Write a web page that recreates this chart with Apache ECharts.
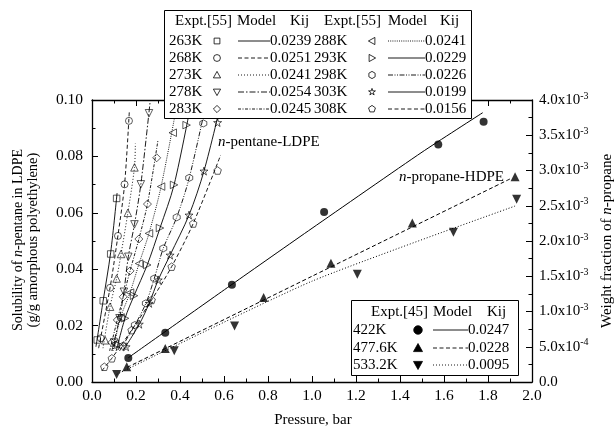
<!DOCTYPE html>
<html><head><meta charset="utf-8">
<script src="https://cdn.jsdelivr.net/npm/echarts@6/dist/echarts.min.js"></script>
<style>html,body{margin:0;padding:0;background:#fff}#c{width:615px;height:427px}</style>
</head><body><div id="c"></div>
<script>
const FONT = 'Liberation Serif';

// ---------- n-pentane / LDPE  (Expt.[55]) : [pressure bar, g/g] ----------
const pentTemps = ['263K','268K','273K','278K','283K','288K','293K','298K','303K','308K'];
const pentKij   = ['0.0239','0.0251','0.0241','0.0254','0.0245','0.0241','0.0229','0.0226','0.0199','0.0156'];

const pent263 = [[0.024,0.0149],[0.051,0.0288],[0.085,0.0454],[0.112,0.0651]];
const pent268 = [[0.040,0.0155],[0.082,0.0334],[0.118,0.0518],[0.148,0.0701],[0.168,0.0926]];
const pent273 = [[0.060,0.0148],[0.082,0.0267],[0.112,0.0367],[0.132,0.0454],[0.163,0.0600],[0.193,0.0761]];
const pent278 = [[0.100,0.0140],[0.125,0.0226],[0.145,0.0320],[0.165,0.0444],[0.193,0.0559],[0.222,0.0701],[0.259,0.0953]];
const pent283 = [[0.090,0.0140],[0.115,0.0220],[0.142,0.0302],[0.173,0.0394],[0.213,0.0507],[0.252,0.0631],[0.294,0.0795]];
const pent288 = [[0.105,0.0135],[0.130,0.0229],[0.173,0.0317],[0.214,0.0420],[0.259,0.0527],[0.314,0.0693],[0.367,0.0884]];
const pent293 = [[0.120,0.0132],[0.150,0.0226],[0.191,0.0306],[0.251,0.0415],[0.309,0.0546],[0.373,0.0699],[0.430,0.0911]];
const pent298 = [[0.140,0.0128],[0.195,0.0202],[0.245,0.0279],[0.283,0.0367],[0.324,0.0474],[0.385,0.0584],[0.442,0.0724],[0.506,0.0917]];
const pent303 = [[0.155,0.0125],[0.215,0.0205],[0.260,0.0279],[0.301,0.0362],[0.355,0.0450],[0.441,0.0592],[0.509,0.0748],[0.571,0.0920]];
const pent308 = [[0.056,0.0054],[0.090,0.0084],[0.180,0.0184],[0.271,0.0291],[0.362,0.0409],[0.460,0.0562],[0.571,0.0750]];

// model curves
const mod263 = [[0.018,0.0125],[0.050,0.0285],[0.085,0.0460],[0.114,0.0670]];
const mod268 = [[0.030,0.0120],[0.082,0.0334],[0.118,0.0520],[0.148,0.0700],[0.170,0.0965]];
const mod273 = [[0.050,0.0120],[0.082,0.0267],[0.112,0.0367],[0.132,0.0454],[0.163,0.0600],[0.193,0.0761],[0.197,0.0846]];
const mod278 = [[0.090,0.0110],[0.125,0.0226],[0.145,0.0320],[0.165,0.0444],[0.193,0.0559],[0.222,0.0701],[0.265,0.1000]];
const mod283 = [[0.080,0.0110],[0.115,0.0220],[0.142,0.0302],[0.173,0.0394],[0.213,0.0507],[0.252,0.0631],[0.300,0.0858]];
const mod288 = [[0.095,0.0110],[0.130,0.0229],[0.173,0.0317],[0.214,0.0420],[0.259,0.0527],[0.314,0.0693],[0.390,0.1000]];
const mod293 = [[0.110,0.0110],[0.150,0.0226],[0.191,0.0306],[0.251,0.0415],[0.309,0.0546],[0.373,0.0699],[0.453,0.1000]];
const mod298 = [[0.125,0.0110],[0.195,0.0202],[0.245,0.0279],[0.283,0.0367],[0.324,0.0474],[0.385,0.0584],[0.442,0.0724],[0.522,0.1000]];
const mod303 = [[0.140,0.0110],[0.215,0.0205],[0.260,0.0279],[0.301,0.0362],[0.355,0.0450],[0.441,0.0592],[0.509,0.0748],[0.590,0.1000]];
const mod308 = [[0.045,0.0040],[0.090,0.0084],[0.180,0.0184],[0.271,0.0291],[0.362,0.0409],[0.460,0.0562],[0.585,0.0805]];

// ---------- n-propane / HDPE (Expt.[45]) : [pressure bar, weight fraction] ----------
const propTemps = ['422K','477.6K','533.2K'];
const propKij   = ['0.0247','0.0228','0.0095'];
const prop422  = [[0.165,3.4e-4],[0.333,7.0e-4],[0.636,1.38e-3],[1.055,2.41e-3],[1.574,3.37e-3],[1.780,3.69e-3]];
const prop4776 = [[0.158,2.16e-4],[0.333,4.76e-4],[0.780,1.20e-3],[1.086,1.684e-3],[1.456,2.256e-3],[1.923,2.912e-3]];
const prop5332 = [[0.112,1.08e-4],[0.374,4.44e-4],[0.648,7.96e-4],[1.206,1.528e-3],[1.643,2.124e-3],[1.930,2.592e-3]];
const modP422  = [[0.165,3.44e-4],[0.636,1.384e-3],[1.000,2.18e-3],[1.500,3.26e-3],[1.776,3.82e-3]];
const modP4776 = [[0.160,2.08e-4],[1.000,1.50e-3],[1.900,2.88e-3]];
const modP5332 = [[0.112,1.08e-4],[1.000,1.43e-3],[1.923,2.496e-3]];

// right axis tick labels [mantissa, exponent]
const rightTicks = [['0.0',''],['5.0','-4'],['1.0','-3'],['1.5','-3'],['2.0','-3'],['2.5','-3'],['3.0','-3'],['3.5','-3'],['4.0','-3']];

// ---------- symbols ----------
const SYM = {
  square:'rect',
  circle:'circle',
  up:'path://M0,-1 L1,0.8 L-1,0.8 Z',
  down:'path://M-1,-0.8 L1,-0.8 L0,1 Z',
  diamond:'path://M0,-1 L1,0 L0,1 L-1,0 Z',
  left:'path://M0.8,-1 L0.8,1 L-1,0 Z',
  right:'path://M-0.8,-1 L-0.8,1 L1,0 Z',
  hex:'path://M0,-1 L0.866,-0.5 L0.866,0.5 L0,1 L-0.866,0.5 L-0.866,-0.5 Z',
  star:'path://M0,-1 L0.2245,-0.309 L0.951,-0.309 L0.363,0.118 L0.588,0.809 L0,0.382 L-0.588,0.809 L-0.363,0.118 L-0.951,-0.309 L-0.2245,-0.309 Z',
  pent:'path://M0,-1 L0.951,-0.309 L0.588,0.809 L-0.588,0.809 L-0.951,-0.309 Z'
};
const pentSym  = ['square','circle','up','down','diamond','left','right','hex','star','pent'];
const pentSize = [6.5,7,7.5,7.5,8,7.5,7.5,7,8,7.5];
const pentDash = ['solid',[4,2.5],[1,2],[6,2,1.5,2],[3,1.5,1,1.5],[1,1.2],'solid',[5,1.5,1,1.5,1,1.5],'solid',[4,2.5]];
const pentPts  = [pent263,pent268,pent273,pent278,pent283,pent288,pent293,pent298,pent303,pent308];
const pentMod  = [mod263,mod268,mod273,mod278,mod283,mod288,mod293,mod298,mod303,mod308];

const propSym  = ['circle','up','down'];
const propSize = [8,9,9];
const propDash = ['solid',[4,2.5],[1,2]];
const propPts  = [prop422,prop4776,prop5332];
const propMod  = [modP422,modP4776,modP5332];

const series = [];
pentPts.forEach((d,i)=>{
  series.push({type:'line', data:pentMod[i], xAxisIndex:0, yAxisIndex:0, showSymbol:false, smooth:0.3,
    lineStyle:{color:'#000', width:0.9, type:pentDash[i]}, silent:true, z:2});
  series.push({type:'scatter', data:d, xAxisIndex:0, yAxisIndex:0, symbol:SYM[pentSym[i]], symbolSize:pentSize[i],
    itemStyle:{color:'rgba(255,255,255,0)', borderColor:'#000', borderWidth:0.8}, silent:true, z:3});
});
propPts.forEach((d,i)=>{
  series.push({type:'line', data:propMod[i], xAxisIndex:0, yAxisIndex:1, showSymbol:false, smooth:0.2,
    lineStyle:{color:'#000', width:1, type:propDash[i]}, silent:true, z:2});
  series.push({type:'scatter', data:d, xAxisIndex:0, yAxisIndex:1, symbol:SYM[propSym[i]], symbolSize:propSize[i],
    itemStyle:{color:'#000'}, silent:true, z:3});
});

// ---------- legend drawing helpers (graphic) ----------
function shapeEl(kind, cx, cy, r, filled){
  const st = {fill: filled ? '#000' : '#fff', stroke:'#000', lineWidth:0.8};
  if (kind==='circle') return {type:'circle', shape:{cx:cx, cy:cy, r:r*0.95}, style:st, z:101};
  let p;
  switch(kind){
    case 'square': p=[[-0.8,-0.8],[0.8,-0.8],[0.8,0.8],[-0.8,0.8]]; break;
    case 'up': p=[[0,-1],[1,0.8],[-1,0.8]]; break;
    case 'down': p=[[-1,-0.8],[1,-0.8],[0,1]]; break;
    case 'diamond': p=[[0,-1],[1,0],[0,1],[-1,0]]; break;
    case 'left': p=[[0.8,-1],[0.8,1],[-1,0]]; break;
    case 'right': p=[[-0.8,-1],[-0.8,1],[1,0]]; break;
    case 'hex': p=[[0,-1],[0.866,-0.5],[0.866,0.5],[0,1],[-0.866,0.5],[-0.866,-0.5]]; break;
    case 'star': p=[[0,-1],[0.2245,-0.309],[0.951,-0.309],[0.363,0.118],[0.588,0.809],[0,0.382],[-0.588,0.809],[-0.363,0.118],[-0.951,-0.309],[-0.2245,-0.309]]; break;
    case 'pent': p=[[0,-1],[0.951,-0.309],[0.588,0.809],[-0.588,0.809],[-0.951,-0.309]]; break;
  }
  return {type:'polygon', shape:{points:p.map(q=>[cx+q[0]*r, cy+q[1]*r])}, style:st, z:101};
}
function txt(s, x, y, size, align){
  return {type:'text', x:x, y:y, z:102, style:{text:s, fontFamily:FONT, fontSize:size||15, fill:'#000',
    align:align||'left', verticalAlign:'middle', textAlign:align||'left', textVerticalAlign:'middle'}};
}
function seg(x1,x2,y,dash){
  return {type:'line', shape:{x1:x1,y1:y,x2:x2,y2:y}, z:101,
    style:{stroke:'#000', lineWidth:0.9, lineDash: dash==='solid'?null:dash}};
}

const gr = [];
// top legend
gr.push({type:'rect', shape:{x:164.5,y:10.5,width:307,height:108}, style:{fill:'#fff', stroke:'#000', lineWidth:1}, z:100});
gr.push(txt('Expt.[55]',175,21)); gr.push(txt('Model',237,21)); gr.push(txt('Kij',290,21));
gr.push(txt('Expt.[55]',324,21)); gr.push(txt('Model',388,21)); gr.push(txt('Kij',440,21));
const rowY = [41,58,75,92,109];
for (let i=0;i<10;i++){
  const col = i<5?0:1, r = i%5, y = rowY[r];
  const tx = col?314:169, mx = col?372:217, l1 = col?388:238, l2 = col?425:270;
  gr.push(txt(pentTemps[i], tx, y));
  gr.push(shapeEl(pentSym[i], mx, y, 3.6, false));
  gr.push(seg(l1, l2, y, pentDash[i]));
  gr.push(txt(pentKij[i], l2, y));
}
// bottom legend
gr.push({type:'rect', shape:{x:351.5,y:300.5,width:167,height:75}, style:{fill:'#fff', stroke:'#000', lineWidth:1}, z:100});
gr.push(txt('Expt.[45]',371,312)); gr.push(txt('Model',433,312)); gr.push(txt('Kij',487,312));
const rowY2 = [330,348,365];
for (let i=0;i<3;i++){
  const y = rowY2[i];
  gr.push(txt(propTemps[i], 353, y));
  gr.push(shapeEl(propSym[i], 418, y, 4.5, true));
  gr.push(seg(433, 468, y, propDash[i]));
  gr.push(txt(propKij[i], 468, y));
}
// annotations
gr.push({type:'text', x:218, y:142, z:50, style:{text:'{i|n}-pentane-LDPE', fontFamily:FONT, fontSize:15, fill:'#000',
  verticalAlign:'middle', textVerticalAlign:'middle', rich:{i:{fontStyle:'italic', fontFamily:FONT, fontSize:15}}}});
gr.push({type:'text', x:399, y:177, z:50, style:{text:'{i|n}-propane-HDPE', fontFamily:FONT, fontSize:15, fill:'#000',
  verticalAlign:'middle', textVerticalAlign:'middle', rich:{i:{fontStyle:'italic', fontFamily:FONT, fontSize:15}}}});
// axis titles
gr.push({type:'text', x:18, y:240, rotation:Math.PI/2, z:50, style:{text:'Solubility of {i|n}-pentane in LDPE', fontFamily:FONT, fontSize:14, fill:'#000',
  align:'center', verticalAlign:'middle', textAlign:'center', textVerticalAlign:'middle', rich:{i:{fontStyle:'italic', fontFamily:FONT, fontSize:14}}}});
gr.push({type:'text', x:33, y:240, rotation:Math.PI/2, z:50, style:{text:'(g/g amorphous polyethylene)', fontFamily:FONT, fontSize:14.5, fill:'#000',
  align:'center', verticalAlign:'middle', textAlign:'center', textVerticalAlign:'middle'}});
gr.push({type:'text', x:607, y:241, rotation:Math.PI/2, z:50, style:{text:'Weight fraction of {i|n}-propane', fontFamily:FONT, fontSize:15, fill:'#000',
  align:'center', verticalAlign:'middle', textAlign:'center', textVerticalAlign:'middle', rich:{i:{fontStyle:'italic', fontFamily:FONT, fontSize:15}}}});
gr.push({type:'text', x:313, y:420, z:50, style:{text:'Pressure, bar', fontFamily:FONT, fontSize:15, fill:'#000',
  align:'center', verticalAlign:'middle', textAlign:'center', textVerticalAlign:'middle'}});

const axLine = {show:true, onZero:false, lineStyle:{color:'#000', width:1.3}};
const tickS = {show:true, inside:true, length:6, lineStyle:{color:'#000', width:1}};
const minorS = {show:true, splitNumber:2, length:3.5, lineStyle:{color:'#000', width:1}};
const lab = {color:'#000', fontFamily:FONT, fontSize:15.5};

const option = {
  animation:false,
  backgroundColor:'#fff',
  grid:{left:92, right:83, top:100, bottom:45, containLabel:false},
  xAxis:[
    {type:'value', min:0, max:2, interval:0.2, position:'bottom', axisLine:axLine, axisTick:tickS, minorTick:minorS,
     splitLine:{show:false}, axisLabel:Object.assign({margin:6, formatter:v=>v.toFixed(1)}, lab)},
    {type:'value', min:0, max:2, interval:0.2, position:'top', axisLine:axLine, axisTick:tickS, minorTick:minorS,
     splitLine:{show:false}, axisLabel:{show:false}}
  ],
  yAxis:[
    {type:'value', min:0, max:0.1, interval:0.02, position:'left', axisLine:axLine, axisTick:tickS, minorTick:minorS,
     splitLine:{show:false}, axisLabel:Object.assign({margin:9, formatter:v=>v.toFixed(2)}, lab)},
    {type:'value', min:0, max:0.004, interval:0.0005, position:'right', axisLine:axLine, axisTick:tickS, minorTick:minorS,
     splitLine:{show:false},
     axisLabel:Object.assign({margin:7, formatter:v=>{
        const t = rightTicks[Math.round(v/0.0005)];
        return t[1] ? '{a|'+t[0]+'x10}{b|'+t[1]+'}' : '{a|'+t[0]+'}';
      }, rich:{a:{fontFamily:FONT, fontSize:15, color:'#000', lineHeight:18},
               b:{fontFamily:FONT, fontSize:10, color:'#000', verticalAlign:'top', lineHeight:18, padding:[0,0,8,0]}}}, lab)}
  ],
  graphic:{elements:gr},
  series:series
};
const chart = echarts.init(document.getElementById('c'), null, {renderer:'canvas'});
chart.setOption(option);
</script></body></html>
